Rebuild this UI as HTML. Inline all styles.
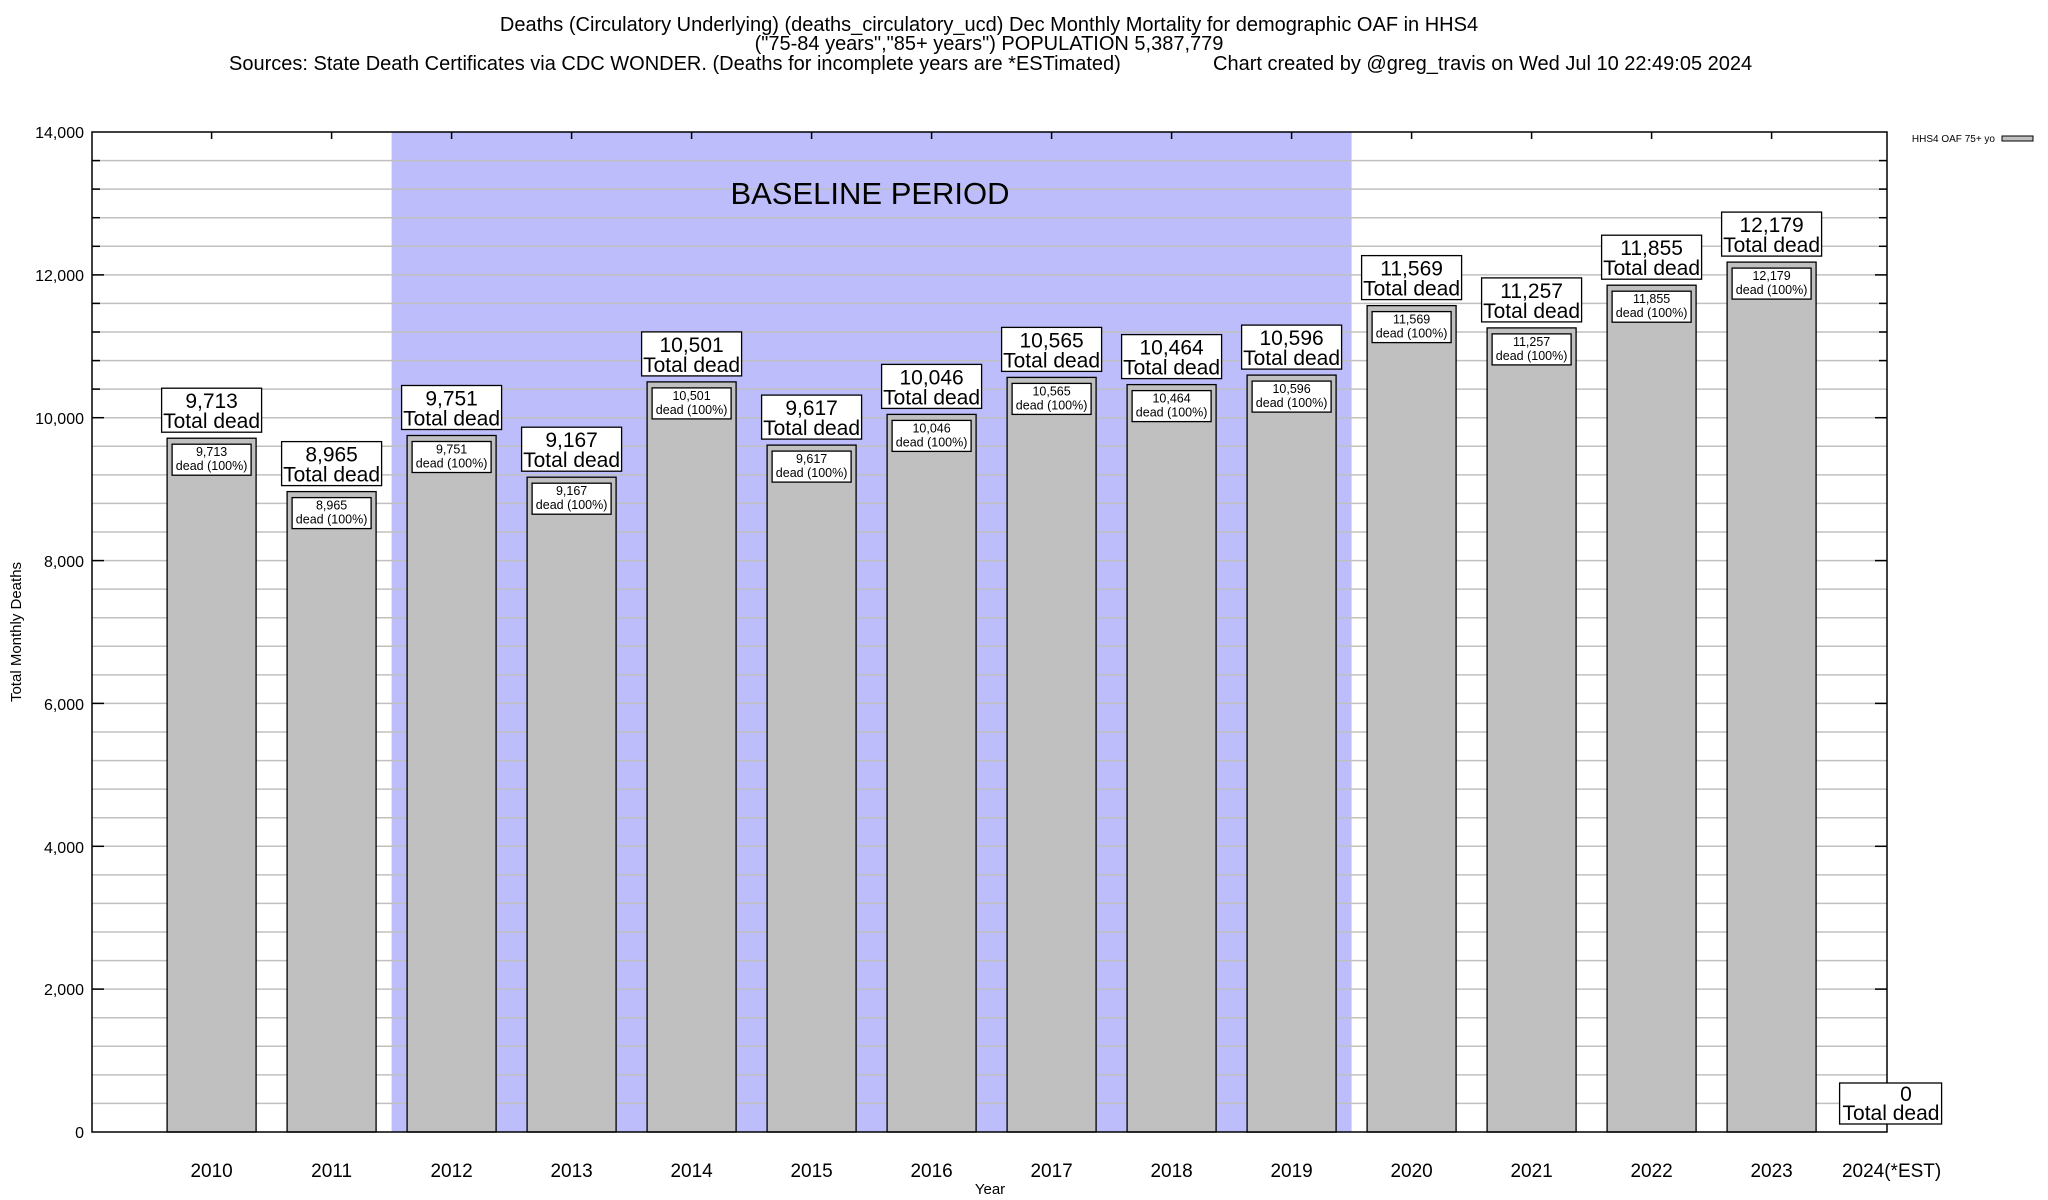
<!DOCTYPE html>
<html><head><meta charset="utf-8"><style>
html,body{margin:0;padding:0;background:#fff}
svg{display:block}
text{font-family:"Liberation Sans",Arial,sans-serif;fill:#000}
</style></head><body>
<svg width="2048" height="1200" viewBox="0 0 2048 1200" xmlns="http://www.w3.org/2000/svg">
<rect width="2048" height="1200" fill="#fff"/>
<g font-size="20" text-anchor="middle">
<text x="989" y="31">Deaths (Circulatory Underlying) (deaths_circulatory_ucd) Dec Monthly Mortality for demographic OAF in HHS4</text>
<text x="989" y="50">("75-84 years","85+ years") POPULATION 5,387,779</text>
<text x="229" y="70" text-anchor="start">Sources: State Death Certificates via CDC WONDER. (Deaths for incomplete years are *ESTimated)</text>
<text x="1213" y="70" text-anchor="start">Chart created by @greg_travis on Wed Jul 10 22:49:05 2024</text>
</g>
<rect x="391.6" y="132" width="960" height="1000" fill="#bdbdfb"/>
<g stroke="#c0c0c0" stroke-width="1.5" id="grid">
<line x1="92" x2="1887" y1="160.6" y2="160.6"/><line x1="92" x2="1887" y1="189.1" y2="189.1"/><line x1="92" x2="1887" y1="217.7" y2="217.7"/><line x1="92" x2="1887" y1="246.3" y2="246.3"/><line x1="92" x2="1887" y1="274.9" y2="274.9"/><line x1="92" x2="1887" y1="303.4" y2="303.4"/><line x1="92" x2="1887" y1="332" y2="332"/><line x1="92" x2="1887" y1="360.6" y2="360.6"/><line x1="92" x2="1887" y1="389.1" y2="389.1"/><line x1="92" x2="1887" y1="417.7" y2="417.7"/><line x1="92" x2="1887" y1="446.3" y2="446.3"/><line x1="92" x2="1887" y1="474.9" y2="474.9"/><line x1="92" x2="1887" y1="503.4" y2="503.4"/><line x1="92" x2="1887" y1="532" y2="532"/><line x1="92" x2="1887" y1="560.6" y2="560.6"/><line x1="92" x2="1887" y1="589.1" y2="589.1"/><line x1="92" x2="1887" y1="617.7" y2="617.7"/><line x1="92" x2="1887" y1="646.3" y2="646.3"/><line x1="92" x2="1887" y1="674.9" y2="674.9"/><line x1="92" x2="1887" y1="703.4" y2="703.4"/><line x1="92" x2="1887" y1="732" y2="732"/><line x1="92" x2="1887" y1="760.6" y2="760.6"/><line x1="92" x2="1887" y1="789.1" y2="789.1"/><line x1="92" x2="1887" y1="817.7" y2="817.7"/><line x1="92" x2="1887" y1="846.3" y2="846.3"/><line x1="92" x2="1887" y1="874.9" y2="874.9"/><line x1="92" x2="1887" y1="903.4" y2="903.4"/><line x1="92" x2="1887" y1="932" y2="932"/><line x1="92" x2="1887" y1="960.6" y2="960.6"/><line x1="92" x2="1887" y1="989.1" y2="989.1"/><line x1="92" x2="1887" y1="1017.7" y2="1017.7"/><line x1="92" x2="1887" y1="1046.3" y2="1046.3"/><line x1="92" x2="1887" y1="1074.9" y2="1074.9"/><line x1="92" x2="1887" y1="1103.4" y2="1103.4"/>
</g>
<g stroke="#000" stroke-width="1.5">
<line x1="92" x2="100" y1="160.6" y2="160.6"/><line x1="92" x2="100" y1="189.1" y2="189.1"/><line x1="92" x2="100" y1="217.7" y2="217.7"/><line x1="92" x2="100" y1="246.3" y2="246.3"/><line x1="92" x2="104" y1="274.9" y2="274.9"/><line x1="92" x2="100" y1="303.4" y2="303.4"/><line x1="92" x2="100" y1="332" y2="332"/><line x1="92" x2="100" y1="360.6" y2="360.6"/><line x1="92" x2="100" y1="389.1" y2="389.1"/><line x1="92" x2="104" y1="417.7" y2="417.7"/><line x1="92" x2="104" y1="560.6" y2="560.6"/><line x1="92" x2="104" y1="703.4" y2="703.4"/><line x1="92" x2="104" y1="846.3" y2="846.3"/><line x1="92" x2="104" y1="989.1" y2="989.1"/>
<line x1="1879" x2="1887" y1="160.6" y2="160.6"/><line x1="1879" x2="1887" y1="189.1" y2="189.1"/><line x1="1879" x2="1887" y1="217.7" y2="217.7"/><line x1="1879" x2="1887" y1="246.3" y2="246.3"/><line x1="1875" x2="1887" y1="274.9" y2="274.9"/><line x1="1879" x2="1887" y1="303.4" y2="303.4"/><line x1="1879" x2="1887" y1="332" y2="332"/><line x1="1879" x2="1887" y1="360.6" y2="360.6"/><line x1="1875" x2="1887" y1="417.7" y2="417.7"/><line x1="1875" x2="1887" y1="560.6" y2="560.6"/><line x1="1875" x2="1887" y1="703.4" y2="703.4"/><line x1="1875" x2="1887" y1="846.3" y2="846.3"/><line x1="1875" x2="1887" y1="989.1" y2="989.1"/>
<line x1="211.6" x2="211.6" y1="132" y2="139"/><line x1="331.6" x2="331.6" y1="132" y2="139"/><line x1="451.6" x2="451.6" y1="132" y2="139"/><line x1="571.6" x2="571.6" y1="132" y2="139"/><line x1="691.6" x2="691.6" y1="132" y2="139"/><line x1="811.6" x2="811.6" y1="132" y2="139"/><line x1="931.6" x2="931.6" y1="132" y2="139"/><line x1="1051.6" x2="1051.6" y1="132" y2="139"/><line x1="1171.6" x2="1171.6" y1="132" y2="139"/><line x1="1291.6" x2="1291.6" y1="132" y2="139"/><line x1="1411.6" x2="1411.6" y1="132" y2="139"/><line x1="1531.6" x2="1531.6" y1="132" y2="139"/><line x1="1651.6" x2="1651.6" y1="132" y2="139"/><line x1="1771.6" x2="1771.6" y1="132" y2="139"/>
</g>
<text x="870" y="204" font-size="31" text-anchor="middle">BASELINE PERIOD</text>
<g fill="#c0c0c0" stroke="#000" stroke-width="1.3">
<rect x="167.1" y="438.2" width="89" height="693.8"/>
<rect x="287.1" y="491.6" width="89" height="640.4"/>
<rect x="407.1" y="435.5" width="89" height="696.5"/>
<rect x="527.1" y="477.2" width="89" height="654.8"/>
<rect x="647.1" y="381.9" width="89" height="750.1"/>
<rect x="767.1" y="445.1" width="89" height="686.9"/>
<rect x="887.1" y="414.4" width="89" height="717.6"/>
<rect x="1007.1" y="377.4" width="89" height="754.6"/>
<rect x="1127.1" y="384.6" width="89" height="747.4"/>
<rect x="1247.1" y="375.1" width="89" height="757"/>
<rect x="1367.1" y="305.6" width="89" height="826.4"/>
<rect x="1487.1" y="327.9" width="89" height="804.1"/>
<rect x="1607.1" y="285.2" width="89" height="846.8"/>
<rect x="1727.1" y="262.1" width="89" height="869.9"/>
</g>
<rect x="92" y="132" width="1795" height="1000" fill="none" stroke="#000" stroke-width="1.5"/>
<g fill="#fff" stroke="#000" stroke-width="1.3">
<rect x="161.6" y="388.2" width="100" height="44"/><rect x="172.1" y="444.2" width="79" height="31"/>
<rect x="281.6" y="441.6" width="100" height="44"/><rect x="292.1" y="497.6" width="79" height="31"/>
<rect x="401.6" y="385.5" width="100" height="44"/><rect x="412.1" y="441.5" width="79" height="31"/>
<rect x="521.6" y="427.2" width="100" height="44"/><rect x="532.1" y="483.2" width="79" height="31"/>
<rect x="641.6" y="331.9" width="100" height="44"/><rect x="652.1" y="387.9" width="79" height="31"/>
<rect x="761.6" y="395.1" width="100" height="44"/><rect x="772.1" y="451.1" width="79" height="31"/>
<rect x="881.6" y="364.4" width="100" height="44"/><rect x="892.1" y="420.4" width="79" height="31"/>
<rect x="1001.6" y="327.4" width="100" height="44"/><rect x="1012.1" y="383.4" width="79" height="31"/>
<rect x="1121.6" y="334.6" width="100" height="44"/><rect x="1132.1" y="390.6" width="79" height="31"/>
<rect x="1241.6" y="325.1" width="100" height="44"/><rect x="1252.1" y="381.1" width="79" height="31"/>
<rect x="1361.6" y="255.6" width="100" height="44"/><rect x="1372.1" y="311.6" width="79" height="31"/>
<rect x="1481.6" y="277.9" width="100" height="44"/><rect x="1492.1" y="333.9" width="79" height="31"/>
<rect x="1601.6" y="235.2" width="100" height="44"/><rect x="1612.1" y="291.2" width="79" height="31"/>
<rect x="1721.6" y="212.1" width="100" height="44"/><rect x="1732.1" y="268.1" width="79" height="31"/>
<rect x="1839.6" y="1083" width="102" height="41"/>
</g>
<g font-size="21" text-anchor="middle">
<text x="211.6" y="408.2">9,713</text><text x="211.6" y="428.2">Total dead</text>
<text x="331.6" y="461.6">8,965</text><text x="331.6" y="481.6">Total dead</text>
<text x="451.6" y="405.5">9,751</text><text x="451.6" y="425.5">Total dead</text>
<text x="571.6" y="447.2">9,167</text><text x="571.6" y="467.2">Total dead</text>
<text x="691.6" y="351.9">10,501</text><text x="691.6" y="371.9">Total dead</text>
<text x="811.6" y="415.1">9,617</text><text x="811.6" y="435.1">Total dead</text>
<text x="931.6" y="384.4">10,046</text><text x="931.6" y="404.4">Total dead</text>
<text x="1051.6" y="347.4">10,565</text><text x="1051.6" y="367.4">Total dead</text>
<text x="1171.6" y="354.6">10,464</text><text x="1171.6" y="374.6">Total dead</text>
<text x="1291.6" y="345.1">10,596</text><text x="1291.6" y="365.1">Total dead</text>
<text x="1411.6" y="275.6">11,569</text><text x="1411.6" y="295.6">Total dead</text>
<text x="1531.6" y="297.9">11,257</text><text x="1531.6" y="317.9">Total dead</text>
<text x="1651.6" y="255.2">11,855</text><text x="1651.6" y="275.2">Total dead</text>
<text x="1771.6" y="232.1">12,179</text><text x="1771.6" y="252.1">Total dead</text>
<text x="1906" y="1101">0</text><text x="1891" y="1120">Total dead</text>
</g>
<g font-size="12.5" text-anchor="middle">
<text x="211.6" y="456.2">9,713</text><text x="211.6" y="470.2">dead (100%)</text>
<text x="331.6" y="509.6">8,965</text><text x="331.6" y="523.6">dead (100%)</text>
<text x="451.6" y="453.5">9,751</text><text x="451.6" y="467.5">dead (100%)</text>
<text x="571.6" y="495.2">9,167</text><text x="571.6" y="509.2">dead (100%)</text>
<text x="691.6" y="399.9">10,501</text><text x="691.6" y="413.9">dead (100%)</text>
<text x="811.6" y="463.1">9,617</text><text x="811.6" y="477.1">dead (100%)</text>
<text x="931.6" y="432.4">10,046</text><text x="931.6" y="446.4">dead (100%)</text>
<text x="1051.6" y="395.4">10,565</text><text x="1051.6" y="409.4">dead (100%)</text>
<text x="1171.6" y="402.6">10,464</text><text x="1171.6" y="416.6">dead (100%)</text>
<text x="1291.6" y="393.1">10,596</text><text x="1291.6" y="407.1">dead (100%)</text>
<text x="1411.6" y="323.6">11,569</text><text x="1411.6" y="337.6">dead (100%)</text>
<text x="1531.6" y="345.9">11,257</text><text x="1531.6" y="359.9">dead (100%)</text>
<text x="1651.6" y="303.2">11,855</text><text x="1651.6" y="317.2">dead (100%)</text>
<text x="1771.6" y="280.1">12,179</text><text x="1771.6" y="294.1">dead (100%)</text>
</g>
<g font-size="16" text-anchor="end">
<text x="84" y="138">14,000</text><text x="84" y="281">12,000</text><text x="84" y="424">10,000</text>
<text x="84" y="567">8,000</text><text x="84" y="710">6,000</text><text x="84" y="853">4,000</text>
<text x="84" y="995">2,000</text><text x="84" y="1138">0</text>
</g>
<g font-size="19" text-anchor="middle">
<text x="211.6" y="1177">2010</text><text x="331.6" y="1177">2011</text><text x="451.6" y="1177">2012</text><text x="571.6" y="1177">2013</text><text x="691.6" y="1177">2014</text><text x="811.6" y="1177">2015</text><text x="931.6" y="1177">2016</text><text x="1051.6" y="1177">2017</text><text x="1171.6" y="1177">2018</text><text x="1291.6" y="1177">2019</text><text x="1411.6" y="1177">2020</text><text x="1531.6" y="1177">2021</text><text x="1651.6" y="1177">2022</text><text x="1771.6" y="1177">2023</text><text x="1891.6" y="1177">2024(*EST)</text>
</g>
<text x="990" y="1194" font-size="15" text-anchor="middle">Year</text>
<text transform="translate(21,632) rotate(-90)" font-size="15" text-anchor="middle">Total Monthly Deaths</text>
<text x="1995" y="142" font-size="10" text-anchor="end">HHS4 OAF 75+ yo</text>
<rect x="2002" y="136" width="31" height="5" fill="#c0c0c0" stroke="#000" stroke-width="1"/>
</svg>
</body></html>
